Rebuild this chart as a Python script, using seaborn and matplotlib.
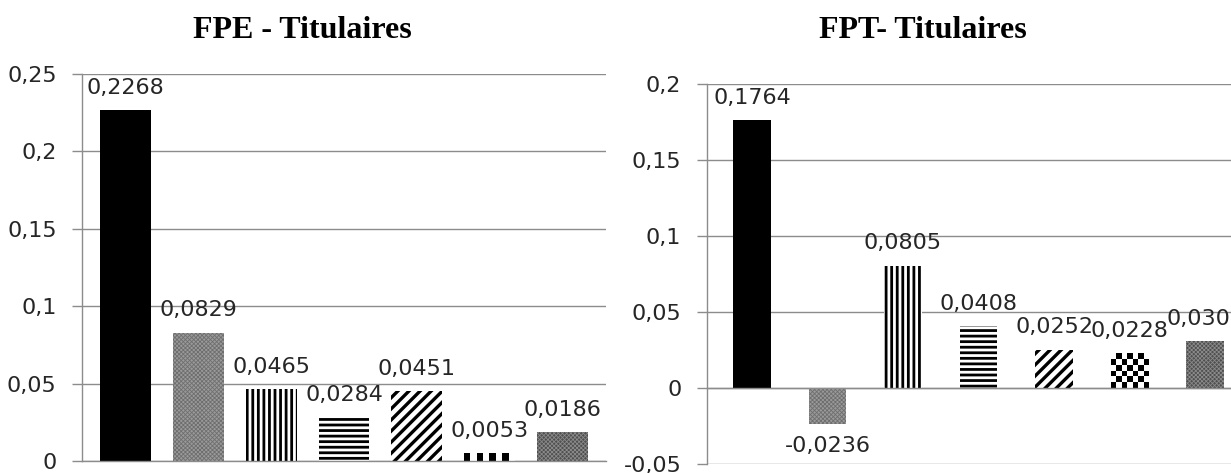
import numpy as np
import pandas as pd
import matplotlib
matplotlib.use("Agg")
import matplotlib.pyplot as plt
from matplotlib.ticker import FuncFormatter, FixedLocator
import seaborn as sns

# Data
categories = ["Cat. 1", "Cat. 2", "Cat. 3", "Cat. 4", "Cat. 5", "Cat. 6", "Cat. 7"]
fpe_values = [0.2268, 0.0829, 0.0465, 0.0284, 0.0451, 0.0053, 0.0186]
fpt_values = [0.1764, -0.0236, 0.0805, 0.0408, 0.0252, 0.0228, 0.0307]
fpe_title = "FPE - Titulaires"
fpt_title = "FPT- Titulaires"
fpe_ticks = [0, 0.05, 0.1, 0.15, 0.2, 0.25]
fpt_ticks = [-0.05, 0, 0.05, 0.1, 0.15, 0.2]

# Fill styles per category: face colour, hatch, hatch colour, hatch width, checker fill
face_colors = ["#000000", "#9a9a9a", "#ffffff", "#ffffff", "#ffffff", "#ffffff", "#4f4f4f"]
hatches = [None, "xxxxxxxx", "|||", "---", "///", None, "xxxxxxxx"]
hatch_colors = ["#000000", "#6e6e6e", "#000000", "#000000", "#000000", "#000000", "#8a8a8a"]
hatch_widths = [1.0, 0.6, 2.0, 2.0, 2.4, 1.0, 0.6]
checker = [False, False, False, False, False, True, False]

GRID = "#8c8c8c"
TEXT = "#262626"

sns.set_theme(style="white")
plt.rcParams["font.family"] = ["DejaVu Sans"]

fig = plt.figure(figsize=(12.31, 4.73), dpi=100)
W, H = 1231, 473
ax_fpe = fig.add_axes([82 / W, (H - 461) / H, 524 / W, (461 - 74) / H])
ax_fpt = fig.add_axes([706.6 / W, (H - 464) / H, 544 / W, (464 - 84) / H])


def fmt_fr(v, pos=None):
    if abs(v) < 1e-12:
        return "0"
    return f"{v:g}".replace(".", ",")


def checker_fill(ax, patch, cell_px):
    x0, y0 = patch.get_x(), patch.get_y()
    w, h = patch.get_width(), patch.get_height()
    bb = patch.get_window_extent()
    nx = max(1, int(round(bb.width / cell_px)))
    ny = max(1, int(round(bb.height / cell_px)))
    arr = np.add.outer(np.arange(ny), np.arange(nx)) % 2
    im = ax.imshow(arr, cmap="gray", vmin=0, vmax=1, extent=(x0, x0 + w, y0, y0 + h),
                   interpolation="nearest", aspect="auto", origin="lower",
                   zorder=patch.get_zorder() + 0.1)
    im.set_clip_path(patch)


def draw_panel(ax, values, ticks, width, cell_px):
    df = pd.DataFrame({"cat": categories, "val": values})
    palette = dict(zip(categories, face_colors))
    bars = []
    for i, cat in enumerate(categories):
        # one bar per category so each gets its own hatch stroke width
        plt.rcParams["hatch.linewidth"] = hatch_widths[i]
        before = len(ax.patches)
        sns.barplot(data=df[df["cat"] == cat], x="cat", y="val", hue="cat",
                    palette=palette, width=width, saturation=1, legend=False,
                    ax=ax, linewidth=0, order=categories, hue_order=categories)
        bars.extend(ax.patches[before:])
    ax.set_xlim(-0.6, 6.6)
    ax.set_ylim(ticks[0], ticks[-1])
    ax.figure.canvas.draw()

    bars = [p for p in bars if abs(p.get_height()) > 0]
    bars = sorted(bars, key=lambda p: p.get_x())
    for i, (p, v) in enumerate(zip(bars, values)):
        p.set_linewidth(0)
        if hatches[i]:
            p.set_hatch(hatches[i])
            p.set_edgecolor(hatch_colors[i])
            if hasattr(p, "set_hatch_linewidth"):
                p.set_hatch_linewidth(hatch_widths[i])
        if checker[i]:
            checker_fill(ax, p, cell_px)
        cx = p.get_x() + p.get_width() / 2
        off = 16 if v >= 0 else -16
        ax.annotate(f"{v:.4f}".replace(".", ","), (cx, v), xytext=(0, off),
                    textcoords="offset points", ha="center", va="center",
                    fontsize=16, color=TEXT, annotation_clip=False)

    ax.set_xlim(-0.6, 6.6)
    ax.set_ylim(ticks[0], ticks[-1])
    ax.yaxis.set_major_locator(FixedLocator(ticks))
    ax.yaxis.set_major_formatter(FuncFormatter(fmt_fr))
    ax.set_axisbelow(True)
    ax.yaxis.grid(True, color=GRID, linewidth=1)
    ax.xaxis.grid(False)
    ax.set_xlabel("")
    ax.set_ylabel("")
    ax.tick_params(axis="x", bottom=False, labelbottom=False)
    ax.tick_params(axis="y", left=True, length=7.2, width=1, color=GRID, pad=11,
                   labelsize=16, labelcolor=TEXT)
    for side in ("top", "right"):
        ax.spines[side].set_visible(False)
    for side in ("left", "bottom"):
        ax.spines[side].set_color(GRID)
        ax.spines[side].set_linewidth(1)
    ax.spines["bottom"].set_position(("data", 0))
    ax.patch.set_alpha(0)


draw_panel(ax_fpe, fpe_values, fpe_ticks, 0.70, 6)
draw_panel(ax_fpt, fpt_values, fpt_ticks, 0.50, 5.5)

fig.text(302 / W, 1 - 38 / H, fpe_title, ha="center", va="baseline",
         fontsize=23, fontweight="bold", family="Liberation Serif", color="#000000")
fig.text(923 / W, 1 - 38 / H, fpt_title, ha="center", va="baseline",
         fontsize=23, fontweight="bold", family="Liberation Serif", color="#000000")

fig.savefig("out.png", dpi=100)
